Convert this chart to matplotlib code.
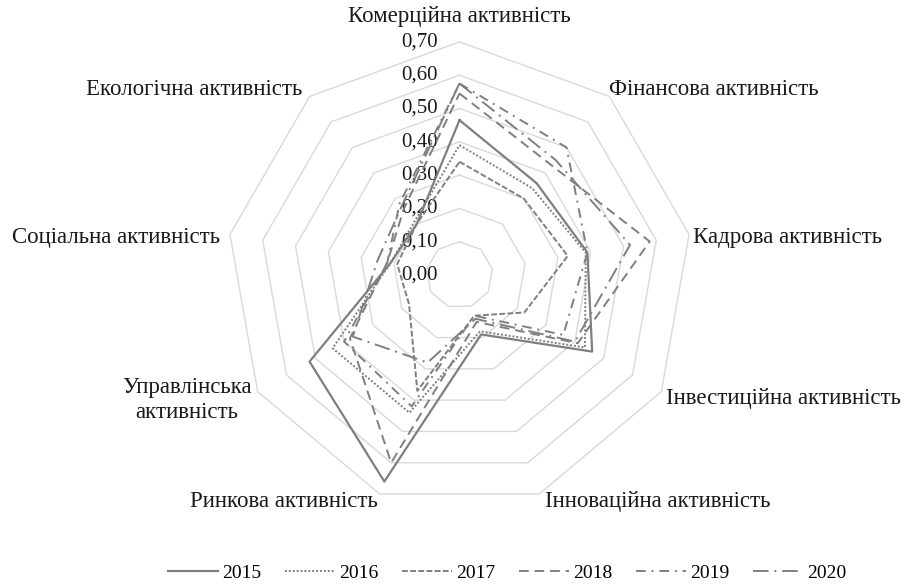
import numpy as np
import matplotlib.pyplot as plt
from matplotlib.lines import Line2D

plt.rcParams['font.family'] = ['Liberation Serif', 'DejaVu Serif']

# axes of the radar, clockwise from the top
categories = ['Комерційна активність', 'Фінансова активність', 'Кадрова активність',
              'Інвестиційна активність', 'Інноваційна активність', 'Ринкова активність',
              'Управлінська\nактивність', 'Соціальна активність', 'Екологічна активність']

years = ['2015', '2016', '2017', '2018', '2019', '2020']
v2015 = [0.465, 0.36, 0.39, 0.46, 0.19, 0.66, 0.52, 0.21, 0.20]
v2016 = [0.39, 0.34, 0.385, 0.435, 0.18, 0.44, 0.44, 0.21, 0.21]
v2017 = [0.34, 0.30, 0.33, 0.225, 0.13, 0.37, 0.175, 0.19, 0.20]
v2018 = [0.545, 0.43, 0.58, 0.41, 0.15, 0.60, 0.38, 0.22, 0.26]
v2019 = [0.575, 0.50, 0.39, 0.36, 0.13, 0.42, 0.40, 0.22, 0.28]
v2020 = [0.575, 0.45, 0.52, 0.40, 0.14, 0.28, 0.37, 0.25, 0.27]
series = [v2015, v2016, v2017, v2018, v2019, v2020]

ticks = [0.0, 0.1, 0.2, 0.3, 0.4, 0.5, 0.6, 0.7]
tick_labels = ['0,00', '0,10', '0,20', '0,30', '0,40', '0,50', '0,60', '0,70']

styles = ['-', (0, (1, 1)), (0, (3, 1.2)), (0, (5, 3)), (0, (5, 3, 1, 3)), (0, (8, 3, 1, 3))]
line_color = '#7f7f7f'

n = len(categories)
angles = np.deg2rad(90 - 360 / n * np.arange(n))


def to_xy(values):
    r = np.asarray(values, dtype=float)
    x = r * np.cos(angles)
    y = r * np.sin(angles)
    return np.append(x, x[0]), np.append(y, y[0])


W, H = 908, 586
cx, cy, scale = 459.5, 275, 333.0   # centre in pixels, pixels per unit

fig = plt.figure(figsize=(W / 100, H / 100), dpi=100)
ax = fig.add_axes([0, 0, 1, 1])
ax.set_xlim(-cx / scale, (W - cx) / scale)
ax.set_ylim(-(H - cy) / scale, cy / scale)
ax.axis('off')

# polygon grid
for t in ticks[1:]:
    gx, gy = to_xy([t] * n)
    ax.plot(gx, gy, color='#d9d9d9', lw=1.0, zorder=1)

for t, lab in zip(ticks, tick_labels):
    ax.text(-21.5 / scale, t, lab, ha='right', va='center', fontsize=15, color='#1a1a1a', zorder=2)

# category labels, offsets in pixels from the end of each axis
offsets = [(0, 25, 'center'), (0, 6.5, 'left'), (4, -2.5, 'left'), (5, -6.5, 'left'),
           (6, -7, 'left'), (-2, -7, 'right'), (-6, -8, 'right'), (-10, -2.5, 'right'),
           (-7, 6.5, 'right')]
for k, (lab, (dx, dy, ha)) in enumerate(zip(categories, offsets)):
    ex, ey = 0.7 * np.cos(angles[k]), 0.7 * np.sin(angles[k])
    ax.annotate(lab, (ex, ey), xytext=(dx * 0.72, dy * 0.72), textcoords='offset points',
                ha=ha, va='center', multialignment='center', fontsize=16.5, color='#1a1a1a',
                linespacing=1.25)

handles = []
for vals, ls, yr in zip(series, styles, years):
    sx, sy = to_xy(vals)
    lw = 1.6 if ls == '-' else 1.4
    ax.plot(sx, sy, color=line_color, lw=lw, linestyle=ls, zorder=3)
    handles.append(Line2D([], [], color=line_color, lw=lw, linestyle=ls, label=yr))

fig.legend(handles=handles, loc='center', bbox_to_anchor=(507 / W, 1 - 573 / H), ncol=6,
           frameon=False, fontsize=14, handlelength=2.6, handletextpad=0.2, columnspacing=1.2)

fig.savefig('out.png', dpi=100)
